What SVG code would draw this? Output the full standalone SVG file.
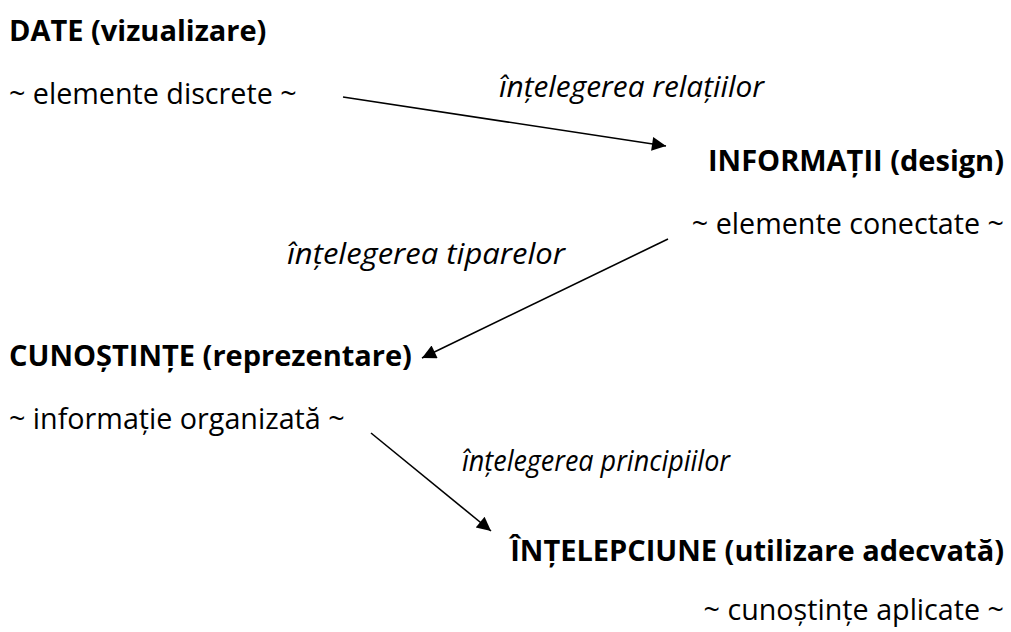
<svg xmlns="http://www.w3.org/2000/svg" width="1011" height="632" viewBox="0 0 1011 632">
<style>
text{font-family:"Open Sans","Noto Sans","Liberation Sans",sans-serif;fill:#000}
.t{font-size:29px;font-weight:bold}
.s{font-size:28.7px}
.l{font-size:29.8px;font-style:italic}
.r{text-anchor:end}
.c{stroke:#000;stroke-width:1.6;fill:none;marker-end:url(#ah)}
</style>
<defs>
<marker id="ah" viewBox="0 0 10 10" refX="10" refY="5" markerWidth="16" markerHeight="14" markerUnits="userSpaceOnUse" orient="auto"><path d="M0 0 L10 5 L0 10 Z" fill="#000"/></marker>
</defs>
<rect width="1011" height="632" fill="#fff"/>
<g id="date"><text class="t" x="9" y="41">DATE (vizualizare)</text><text class="s" x="9" y="104">~ elemente discrete ~</text></g>
<g id="informatii"><text class="t r" x="1004" y="171">INFORMAȚII (design)</text><text class="s r" x="1004" y="234">~ elemente conectate ~</text></g>
<g id="cunostinte"><text class="t" x="9" y="366">CUNOȘTINȚE (reprezentare)</text><text class="s" x="9" y="429">~ informație organizată ~</text></g>
<g id="intelepciune"><text class="t r" x="1004" y="561">ÎNȚELEPCIUNE (utilizare adecvată)</text><text class="s r" x="1004" y="620">~ cunoștințe aplicate ~</text></g>
<g id="connectors">
<path class="c" d="M343 97 L666 146"/>
<text class="l" x="499" y="97">înțelegerea relațiilor</text>
<path class="c" d="M668 239 L422 358"/>
<text class="l" x="287" y="264" textLength="278" lengthAdjust="spacingAndGlyphs">înțelegerea tiparelor</text>
<path class="c" d="M371 433 L491 531"/>
<text class="l" x="462" y="471" textLength="268" lengthAdjust="spacingAndGlyphs">înțelegerea principiilor</text>
</g>
</svg>
